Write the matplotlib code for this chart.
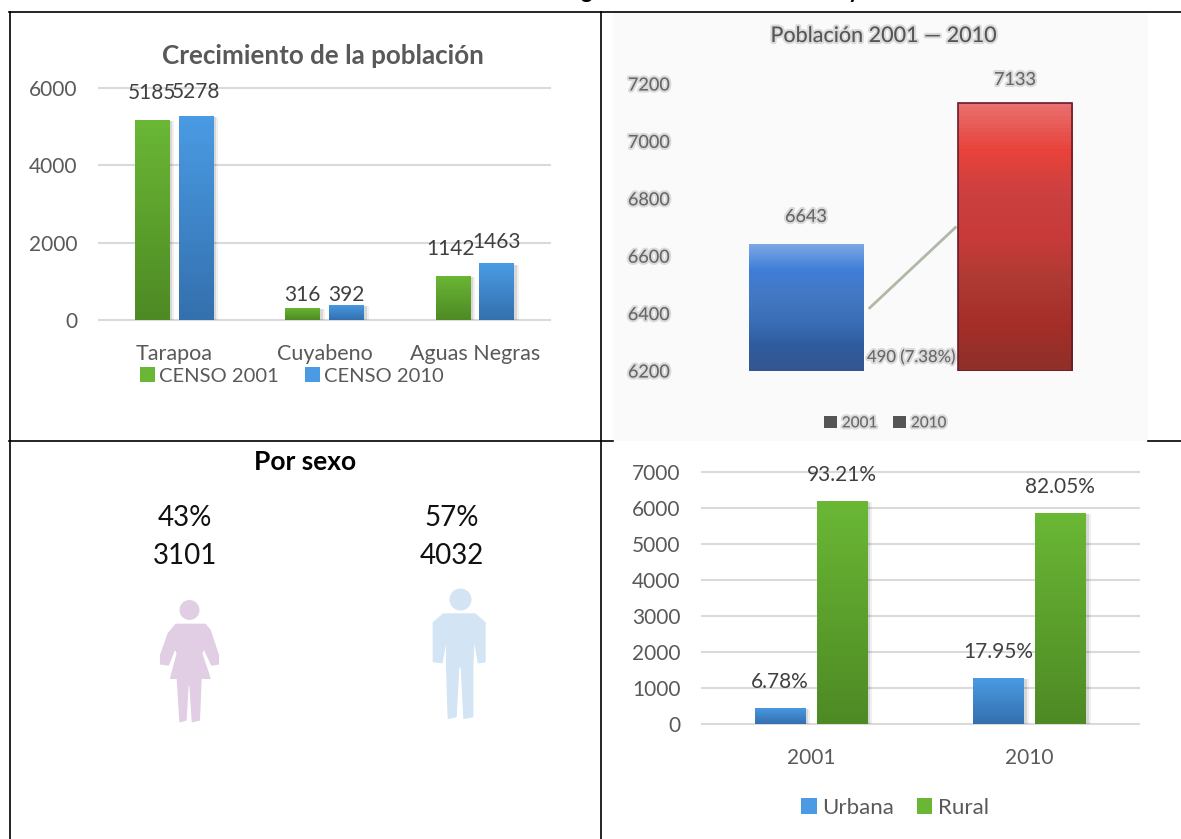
#!/usr/bin/python

import numpy as np
from matplotlib import patheffects as pe
from matplotlib import pyplot as plt
from matplotlib.colors import LinearSegmentedColormap
from matplotlib.lines import Line2D
from matplotlib.patches import Circle, Polygon, Rectangle

W, H = 1181, 839

# Top left: growth per locality.
localities = ['Tarapoa', 'Cuyabeno', 'Aguas Negras']
censo_2001 = [5185, 316, 1142]
censo_2010 = [5278, 392, 1463]

# Top right: total population (blurred picture in the source).
total_years = ['2001', '2010']
total_population = [6643, 7133]
total_ticks = [6200, 6400, 6600, 6800, 7000, 7200]
connector_values = [6420, 6700]

# Bottom left: population by sex.
sex_percent = ['43%', '57%']
sex_counts = ['3101', '4032']

# Bottom right: urban and rural population.
area_years = ['2001', '2010']
urbana = [450, 1280]
rural = [6192, 5853]
urbana_labels = ['6.78%', '17.95%']
rural_labels = ['93.21%', '82.05%']

GREEN = ['#6AB735', '#4E8A24']
BLUE = ['#4A9BE4', '#3470AE']
TEXT = '#595959'
LABEL = '#404040'
GRID = '#DADADA'

plt.rcParams['font.family'] = ['Lato', 'DejaVu Sans']


def px_axes(fig, x0, x1, y_top, y_bottom):
    # Axes from a pixel box measured on the reference (y grows downwards).
    return fig.add_axes([x0 / W, 1 - y_bottom / H, (x1 - x0) / W, (y_bottom - y_top) / H])


def gradient_bars(ax, bars, colors, shadow=True):
    cmap = LinearSegmentedColormap.from_list('bar', colors)
    xlim, ylim = ax.get_xlim(), ax.get_ylim()
    for bar in bars:
        if shadow:
            bar.set_path_effects([pe.SimplePatchShadow(offset=(3.5, -1), shadow_rgbFace='#000000', alpha=0.06),
                                  pe.SimplePatchShadow(offset=(2, -1), shadow_rgbFace='#000000', alpha=0.10),
                                  pe.Normal()])
        x, y, w, h = bar.get_x(), bar.get_y(), bar.get_width(), bar.get_height()
        image = ax.imshow(np.linspace(0, 1, 64).reshape(-1, 1), cmap=cmap, aspect='auto',
                          extent=[x, x + w, y, y + h], origin='upper', zorder=3)
        image.set_clip_path(bar)
    ax.set_xlim(xlim)
    ax.set_ylim(ylim)


def style_chart(ax, ticks, ymax, labels, label_pad):
    ax.set_ylim(ticks[0], ymax)
    ax.set_yticks(ticks)
    ax.set_xticks(range(len(labels)))
    ax.set_xticklabels(labels)
    ax.set_xlim(-0.5, len(labels) - 0.5)
    ax.tick_params(length=0, labelsize=15, labelcolor=TEXT, pad=label_pad)
    ax.grid(axis='y', color=GRID, lw=1.5, zorder=0, clip_on=False)
    ax.set_axisbelow(True)
    ax.patch.set_alpha(0)
    for spine in ax.spines.values():
        spine.set_visible(False)


def square(color):
    return Rectangle((0, 0), 1, 1, facecolor=color, edgecolor='none')


def main():
    fig = plt.figure(figsize=(W / 100, H / 100), dpi=100, facecolor='white')

    # Picture background of the top right cell, under every axes.
    fig.add_artist(Rectangle((613 / W, 1 - 441 / H), 535 / W, 429 / H, transform=fig.transFigure,
                             facecolor='#FAFAFA', edgecolor='none', zorder=-1))

    # Overlay in pixel coordinates for the table frame and free text.
    page = fig.add_axes([0, 0, 1, 1])
    page.set_xlim(0, W)
    page.set_ylim(H, 0)
    page.axis('off')

    frame = [((9, 12), (1181, 12)), ((9.5, 12), (9.5, 839)), ((600.5, 12), (600.5, 839)),
             ((9, 441), (613, 441)), ((1148, 441), (1181, 441))]
    for start, end in frame:
        page.add_line(Line2D([start[0], end[0]], [start[1], end[1]], color='black', lw=1.2))

    # Descenders of the heading cut off by the page edge.
    page.text(586, -2, 'g', ha='center', va='baseline', fontsize=16, fontweight='bold', color='black')
    page.text(854, -2, 'y', ha='center', va='baseline', fontsize=16, fontweight='bold', color='black')

    # Top left chart.
    ax = px_axes(fig, 99, 550, 88, 320)
    x = np.arange(len(localities))
    bars_a = ax.bar(x - 0.146, censo_2001, 0.23, color=GREEN[0], zorder=2)
    bars_b = ax.bar(x + 0.146, censo_2010, 0.23, color=BLUE[0], zorder=2)
    style_chart(ax, [0, 2000, 4000, 6000], 6000, localities, 17)
    ax.tick_params(axis='x', labelsize=15.5)
    ax.tick_params(axis='y', pad=15.5)
    gradient_bars(ax, bars_a, GREEN)
    gradient_bars(ax, bars_b, BLUE)
    page.text(323, 56, 'Crecimiento de la población', ha='center', va='center',
              fontsize=18.7, fontweight='bold', color=TEXT)
    label_x = [151.5, 196, 302.5, 346, 451, 497]
    label_y = [93, 92, 295, 295, 249, 242]
    for lx, ly, value in zip(label_x, label_y, [censo_2001[0], censo_2010[0], censo_2001[1],
                                                censo_2010[1], censo_2001[2], censo_2010[2]]):
        page.text(lx, ly, str(value), ha='center', va='center', fontsize=15, color=LABEL, zorder=5)
    ax.legend([square(GREEN[0]), square(BLUE[0])], ['CENSO 2001', 'CENSO 2010'], ncols=2, frameon=False,
              loc='center', bbox_to_anchor=(291.5 / W, 1 - 376 / H), bbox_transform=fig.transFigure,
              fontsize=14.5, labelcolor=TEXT, handlelength=0.75, handleheight=0.75,
              handletextpad=0.2, columnspacing=1.3)

    # Top right chart, soft text imitates the blurred picture.
    blur = [pe.withStroke(linewidth=3, foreground='#BBBBBB', alpha=0.5)]
    ax = px_axes(fig, 701.5, 1119.5, 84, 371)
    base = total_ticks[0]
    bars = ax.bar([0, 1], np.array(total_population) - base, 0.55, bottom=base,
                  color=['#4478C4', '#C83A3A'], zorder=2)
    style_chart(ax, total_ticks, 7200, total_years, 5)
    ax.grid(False)
    ax.set_xticks([])
    ax.tick_params(axis='y', labelsize=13, labelcolor='#666666', pad=23)
    for label in ax.get_yticklabels():
        label.set_path_effects(blur)
    gradient_bars(ax, [bars[0]], ['#7FA8E6', '#3F7FD8', '#4478C4', '#3B70B8', '#2F5C9E', '#35558F'], shadow=False)
    gradient_bars(ax, [bars[1]], ['#E87070', '#E8433A', '#CC4040', '#C83A3A', '#AE3A33', '#A52E28', '#8E3028'],
                  shadow=False)
    ax.bar([1], total_population[1] - base, 0.55, bottom=base, fill=False, edgecolor='#6A1A2A', lw=1.2, zorder=4)
    ax.plot([bars[0].get_x() + bars[0].get_width() + 0.03, bars[1].get_x() - 0.01], connector_values,
            color='#B0B8A8', lw=2, zorder=2)
    page.text(883, 36, 'Población 2001 — 2010', ha='center', va='center', fontsize=15.5,
              color='#555555', path_effects=blur)
    page.text(806, 217, str(total_population[0]), ha='center', va='center', fontsize=13,
              color='#666666', path_effects=blur)
    page.text(1015, 80, str(total_population[1]), ha='center', va='center', fontsize=13,
              color='#666666', path_effects=blur)
    page.text(911, 357, '490 (7.38%)', ha='center', va='center', fontsize=12,
              color='#666666', path_effects=blur, zorder=5)
    legend = ax.legend([square('#555555'), square('#555555')], total_years, ncols=2, frameon=False,
                       loc='center', bbox_to_anchor=(885 / W, 1 - 423 / H), bbox_transform=fig.transFigure,
                       fontsize=11, labelcolor='#666666', handlelength=0.9, handleheight=0.9,
                       handletextpad=0.3, columnspacing=1.0)
    for text in legend.get_texts():
        text.set_path_effects(blur)

    # Bottom left: pictograms.
    page.text(305, 462, 'Por sexo', ha='center', va='center', fontsize=19, fontweight='bold', color='black')
    for cx, percent, count in zip([185, 452], sex_percent, sex_counts):
        page.text(cx, 518, percent, ha='center', va='center', fontsize=20, color='#111111')
        page.text(cx, 556, count, ha='center', va='center', fontsize=20, color='#111111')

    woman = np.array([(228, 553), (315, 553), (330, 570), (355, 645), (355, 672), (335, 675), (312, 625),
                      (305, 640), (330, 715), (303, 715), (298, 840), (277, 845), (270, 735), (264, 735),
                      (258, 840), (240, 845), (232, 715), (212, 715), (232, 640), (225, 625), (205, 675),
                      (182, 672), (182, 645), (205, 580)]) / 3 + (100, 440)
    man = np.array([(1030, 522), (1125, 522), (1155, 548), (1155, 665), (1135, 668), (1122, 590), (1118, 680),
                    (1118, 830), (1092, 835), (1084, 680), (1076, 680), (1068, 830), (1045, 835), (1040, 680),
                    (1040, 590), (1026, 668), (1000, 665), (1000, 548)]) / 3 + (100, 440)
    for shape, color in [(woman, '#E1CEE4'), (man, '#D3E4F4')]:
        page.add_patch(Polygon(shape, facecolor=color, edgecolor=color, lw=1, joinstyle='round'))
    page.add_patch(Circle((189.5, 610), 10, facecolor='#E1CEE4', edgecolor='none'))
    page.add_patch(Circle((460.5, 599.5), 11, facecolor='#D3E4F4', edgecolor='none'))

    # Bottom right chart.
    ax = px_axes(fig, 702, 1139, 471.7, 724)
    x = np.arange(len(area_years))
    bars_u = ax.bar(x - 0.142, urbana, 0.232, color=BLUE[0], zorder=2)
    bars_r = ax.bar(x + 0.142, rural, 0.232, color=GREEN[0], zorder=2)
    style_chart(ax, list(range(0, 8000, 1000)), 7000, area_years, 17)
    ax.tick_params(axis='y', pad=15.5)
    gradient_bars(ax, bars_u, BLUE)
    gradient_bars(ax, bars_r, GREEN)
    for lx, ly, text in zip([780, 998], [682, 652], urbana_labels):
        page.text(lx, ly, text, ha='center', va='center', fontsize=15, color=LABEL, zorder=5)
    for lx, ly, text in zip([842, 1060], [475, 487], rural_labels):
        page.text(lx, ly, text, ha='center', va='center', fontsize=15, color=LABEL, zorder=5)
    ax.legend([square(BLUE[0]), square(GREEN[0])], ['Urbana', 'Rural'], ncols=2, frameon=False, loc='center',
              bbox_to_anchor=(895 / W, 1 - 808 / H), bbox_transform=fig.transFigure,
              fontsize=16, labelcolor=TEXT, handlelength=0.7, handleheight=0.7,
              handletextpad=0.25, columnspacing=1.0)

    # Page on top so its text sits above the charts.
    page.set_zorder(5)
    page.patch.set_alpha(0)

    fig.savefig('out.png', dpi=100)


if __name__ == '__main__':
    main()
